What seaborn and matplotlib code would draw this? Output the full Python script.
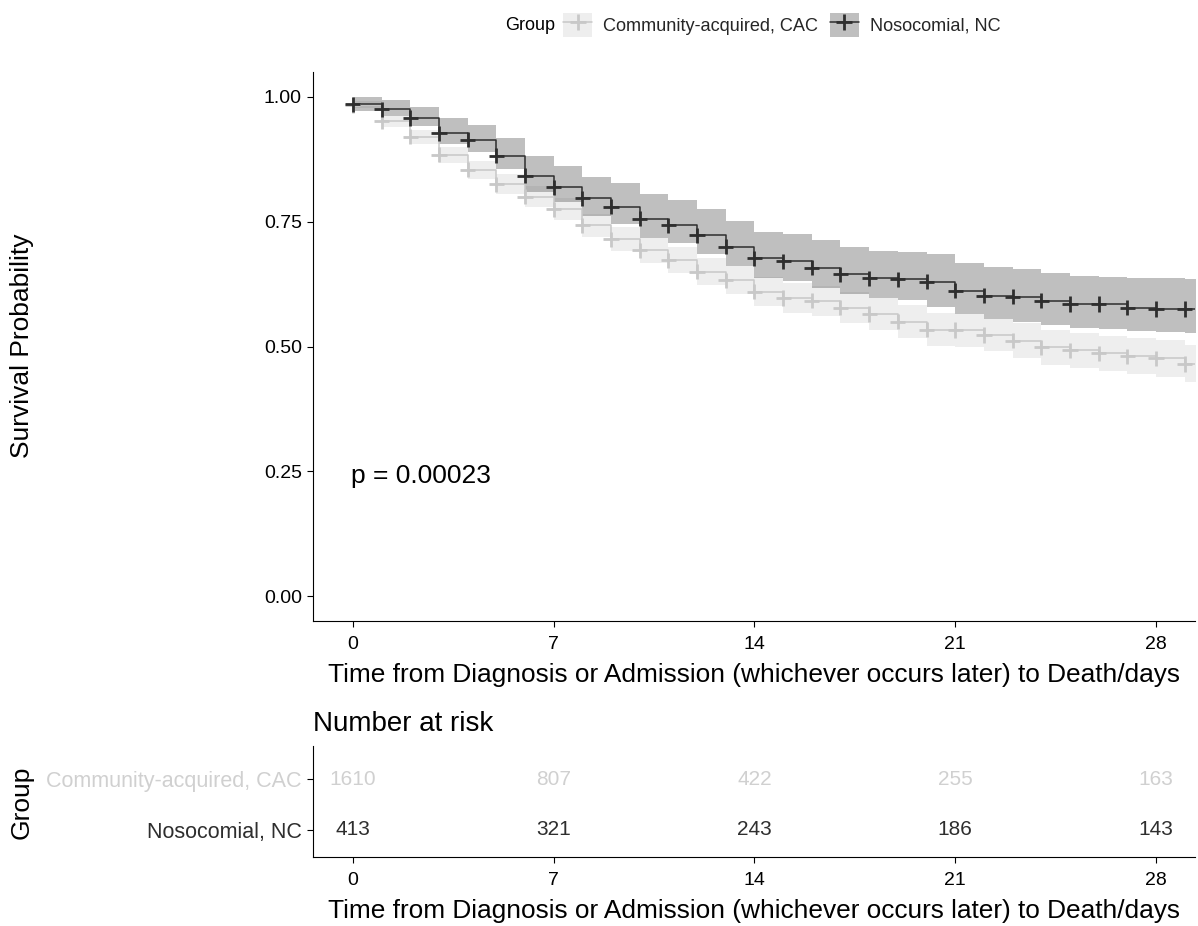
import numpy as np
import pandas as pd
import matplotlib
matplotlib.use("Agg")
import matplotlib.pyplot as plt
import seaborn as sns
from matplotlib.patches import Patch
from matplotlib.lines import Line2D

# ---------------- data ----------------
groups = ["Community-acquired, CAC", "Nosocomial, NC"]
times = list(range(30))
end_time = 29.4

cac_surv = [0.984, 0.951, 0.920, 0.884, 0.854, 0.825, 0.800, 0.775, 0.743, 0.715,
            0.693, 0.673, 0.650, 0.633, 0.610, 0.597, 0.592, 0.578, 0.565, 0.550,
            0.534, 0.533, 0.523, 0.512, 0.498, 0.492, 0.486, 0.480, 0.476, 0.465]
cac_lower = [0.977, 0.940, 0.906, 0.868, 0.836, 0.806, 0.780, 0.753, 0.720, 0.692,
             0.668, 0.648, 0.623, 0.605, 0.582, 0.568, 0.562, 0.547, 0.533, 0.518,
             0.502, 0.500, 0.490, 0.477, 0.463, 0.456, 0.450, 0.444, 0.439, 0.428]
cac_upper = [0.991, 0.962, 0.934, 0.900, 0.872, 0.845, 0.822, 0.797, 0.766, 0.740,
             0.718, 0.700, 0.678, 0.662, 0.640, 0.627, 0.622, 0.610, 0.598, 0.583,
             0.567, 0.566, 0.556, 0.547, 0.533, 0.528, 0.522, 0.517, 0.513, 0.503]

nc_surv = [0.985, 0.975, 0.958, 0.927, 0.914, 0.882, 0.842, 0.819, 0.797, 0.780,
           0.756, 0.743, 0.723, 0.700, 0.677, 0.671, 0.658, 0.645, 0.637, 0.635,
           0.630, 0.612, 0.602, 0.600, 0.592, 0.585, 0.585, 0.578, 0.575, 0.575]
nc_lower = [0.972, 0.962, 0.942, 0.906, 0.890, 0.855, 0.810, 0.789, 0.762, 0.745,
            0.718, 0.708, 0.685, 0.661, 0.637, 0.631, 0.618, 0.605, 0.597, 0.594,
            0.580, 0.565, 0.556, 0.550, 0.543, 0.538, 0.536, 0.532, 0.530, 0.528]
nc_upper = [0.999, 0.993, 0.980, 0.957, 0.944, 0.918, 0.882, 0.862, 0.840, 0.827,
            0.806, 0.794, 0.775, 0.752, 0.730, 0.725, 0.713, 0.699, 0.691, 0.690,
            0.686, 0.668, 0.660, 0.655, 0.648, 0.641, 0.640, 0.638, 0.637, 0.635]

risk_times = [0, 7, 14, 21, 28]
cac_risk = [1610, 807, 422, 255, 163]
nc_risk = [413, 321, 243, 186, 143]

x_ticks = [0, 7, 14, 21, 28]
y_ticks = [0.0, 0.25, 0.50, 0.75, 1.00]
y_tick_labels = ["0.00", "0.25", "0.50", "0.75", "1.00"]
p_text = "p = 0.00023"
x_title = "Time from Diagnosis or Admission (whichever occurs later) to Death/days"

# ---------------- style ----------------
cac_col = "#C8C8C8"
nc_col = "#2E2E2E"
cac_text_col = "#D0D0D0"
palette = {groups[0]: cac_col, groups[1]: nc_col}
text_palette = {groups[0]: cac_text_col, groups[1]: nc_col}

sns.set_theme(style="ticks")
plt.rcParams["font.family"] = ["Liberation Sans", "DejaVu Sans"]
plt.rcParams["axes.edgecolor"] = "black"
plt.rcParams["axes.linewidth"] = 0.8

W, H = 1198, 926
fig = plt.figure(figsize=(W / 100, H / 100), dpi=100)
ax = fig.add_axes([313 / W, 1 - 621 / H, 882 / W, 549 / H])
ax2 = fig.add_axes([313 / W, 1 - 857 / H, 882 / W, 111 / H])

# ---------------- build tables ----------------
def ext(v):
    return list(v) + [v[-1]]

t_ext = times + [end_time]
curve_df = pd.concat([
    pd.DataFrame({"time": t_ext, "surv": ext(cac_surv), "group": groups[0]}),
    pd.DataFrame({"time": t_ext, "surv": ext(nc_surv), "group": groups[1]}),
], ignore_index=True)
cens_df = pd.concat([
    pd.DataFrame({"time": times, "surv": cac_surv, "group": groups[0]}),
    pd.DataFrame({"time": times, "surv": nc_surv, "group": groups[1]}),
], ignore_index=True)

# confidence bands
for lo, up, col in [(cac_lower, cac_upper, cac_col), (nc_lower, nc_upper, nc_col)]:
    ax.fill_between(t_ext, ext(lo), ext(up), step="post", color=col,
                    alpha=0.3, linewidth=0, zorder=1)

sns.lineplot(data=curve_df, x="time", y="surv", hue="group", palette=palette,
             hue_order=groups, drawstyle="steps-post", estimator=None,
             linewidth=1.1, legend=False, ax=ax, zorder=2)
sns.scatterplot(data=cens_df, x="time", y="surv", hue="group", palette=palette,
                hue_order=groups, marker="+", s=120, linewidth=2.0,
                legend=False, ax=ax, zorder=3)

ax.set_xlim(-1.39, 29.36)
ax.set_ylim(-0.05, 1.05)
ax.set_xticks(x_ticks)
ax.set_yticks(y_ticks)
ax.set_yticklabels(y_tick_labels)
ax.tick_params(axis="both", labelsize=14, length=4, width=0.8, color="black",
               labelcolor="black", pad=4)
ax.tick_params(axis="x", pad=6.5)
ax.set_xlabel(x_title, fontsize=18.9, color="black")
ax.set_ylabel("")
ax.xaxis.set_label_coords(0.5, -0.076)
sns.despine(ax=ax)
fig.text(22 / W, 1 - 346 / H, "Survival Probability", rotation=90,
         ha="center", va="center", fontsize=19, color="black")
ax.text(-0.05, 0.24, p_text, ha="left", va="center", fontsize=19, color="black")

# ---------------- risk table ----------------
ax2.set_xlim(-1.39, 29.36)
ax2.set_ylim(0.46, 2.66)
row_y = {groups[0]: 2, groups[1]: 1}
for g, vals in [(groups[0], cac_risk), (groups[1], nc_risk)]:
    for t, n in zip(risk_times, vals):
        ax2.text(t, row_y[g], str(n), ha="center", va="center",
                 fontsize=15, color=text_palette[g])
ax2.set_xticks(x_ticks)
ax2.set_yticks([1, 2])
ax2.set_yticklabels([groups[1], groups[0]])
for lbl in ax2.get_yticklabels():
    lbl.set_color(text_palette[lbl.get_text()])
ax2.tick_params(axis="both", length=4, width=0.8, color="black", pad=4)
ax2.tick_params(axis="x", labelsize=14, labelcolor="black", pad=6.5)
ax2.tick_params(axis="y", labelsize=15.5)
ax2.set_xlabel(x_title, fontsize=18.9, color="black")
ax2.xaxis.set_label_coords(0.5, -0.38)
ax2.set_ylabel("")
sns.despine(ax=ax2)
ax2.text(0, 1.20, "Number at risk", transform=ax2.transAxes, ha="left",
         va="center", fontsize=20, color="black")
fig.text(22 / W, 1 - 802 / H, "Group", rotation=90, ha="center", va="center",
         fontsize=19, color="black")

# ---------------- legend ----------------
fig.text(505 / W, 1 - 25 / H, "Group", ha="left", va="center", fontsize=13,
         color="black")
handles = []
for g in groups:
    patch = Patch(facecolor=palette[g], alpha=0.3, edgecolor="none")
    line = Line2D([], [], color=palette[g], marker="+", markersize=11,
                  markeredgewidth=2.0, linewidth=1.1)
    handles.append((patch, line))
fig.legend(handles, groups, loc="center left", bbox_to_anchor=(563 / W, 1 - 25 / H),
           ncol=2, frameon=False, fontsize=13.1, handlelength=1.6, handleheight=1.6,
           handletextpad=0.6, columnspacing=0.65, borderpad=0, borderaxespad=0)

fig.savefig("out.png", dpi=100)
